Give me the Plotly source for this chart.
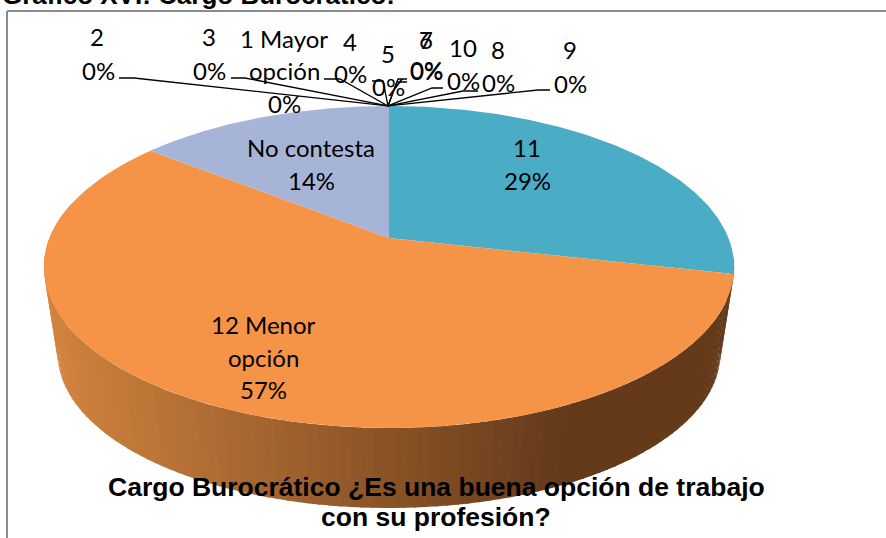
import numpy as np
import plotly.graph_objects as go

categories = ["1 Mayor<br>opción", "2", "3", "4", "5", "6", "7", "8", "9", "10", "11", "12 Menor<br>opción", "No contesta"]
values = [0, 0, 0, 0, 0, 0, 0, 0, 0, 0, 2, 4, 1]
colors = {"11": "#4BACC6", "12 Menor<br>opción": "#F59446", "No contesta": "#A6B5D7"}

CX, CY, R, B, A = 389, 238, 339.5, 155.8, 0.18
DEPTH_S, DEPTH_DY = 0.96, 87.6


def project(theta, r=1.0, s=1.0, dy=0.0):
    u, v = r * np.sin(theta), r * np.cos(theta)
    w = 1 + A * v
    return CX + s * R * u / w, CY + dy - s * B * v / w


fig = go.Figure()
total = sum(values)
fracs = np.array(values) / total
ends = np.cumsum(fracs) * 2 * np.pi
starts = ends - fracs * 2 * np.pi


def lerp(c1, c2, t):
    return "rgb(%d,%d,%d)" % tuple(round(a + (b - a) * t) for a, b in zip(c1, c2))


# side wall
front_start = np.deg2rad(97)
front_end = np.deg2rad(283)
edges = np.linspace(front_start, front_end, 121)
for a0, a1 in zip(edges[:-1], edges[1:]):
    th = np.linspace(a0, a1 + 0.006, 3)
    xt, yt = project(th)
    xb, yb = project(th[::-1], s=DEPTH_S, dy=DEPTH_DY)
    xm = (xt.mean() + xb.mean()) / 2
    t = np.clip((xm - 60) / (560 - 60), 0, 1)
    fig.add_trace(go.Scatter(x=np.r_[xt, xb], y=np.r_[yt, yb], fill="toself", mode="lines",
                             line=dict(width=0), fillcolor=lerp((208, 130, 62), (100, 58, 27), t),
                             hoverinfo="skip", showlegend=False))

# top face
for name, v, a0, a1 in zip(categories, values, starts, ends):
    if v == 0:
        continue
    th = np.linspace(a0, a1, 160)
    xs, ys = project(th)
    fig.add_trace(go.Scatter(x=np.r_[CX, xs, CX], y=np.r_[CY, ys, CY], fill="toself", mode="lines",
                             line=dict(width=0), fillcolor=colors[name], hoverinfo="skip", showlegend=False))

# leader lines: (label start, elbow)
leaders = {"2": (119, 134, 78), "3": (231, 245, 78), "4": (324, 340, 79), "5": (372, 383, 81),
           "6": (407, 397, 82), "7": (407, 398, 79), "10": (443, 432, 88), "8": (478, 463, 91), "9": (550, 538, 90)}
ax0, ay0 = project(0.0)
for k, (x0, x1, y) in leaders.items():
    fig.add_trace(go.Scatter(x=[x0, x1, ax0 - 1], y=[y, y, ay0], mode="lines", line=dict(color="black", width=1.3),
                             hoverinfo="skip", showlegend=False))

label_pos = {"1 Mayor": (284, 38), "opción": (284, 70), "2": (97, 36), "3": (209, 36), "4": (350, 41),
             "5": (388, 53), "6": (426, 39), "7": (426, 39), "8": (498, 49), "9": (570, 49),
             "10": (463, 47), "11": (527, 147), "12 Menor": (263, 324), "opción ": (263, 357),
             "No contesta": (311, 147)}
pct_pos = {"1 Mayor<br>opción": (284, 103), "2": (98, 70), "3": (209, 70), "4": (350, 73), "5": (388, 86),
           "6": (426, 69), "7": (426, 70), "8": (498, 82), "9": (570, 83), "10": (463, 80), "11": (527, 180),
           "12 Menor<br>opción": (263, 389), "No contesta": (311, 180)}
FONT = "Lato"
FS = 24
anns = []
for name, (x, y) in label_pos.items():
    anns.append(dict(x=x, y=y, text=name.strip(), showarrow=False, font=dict(family=FONT, size=FS, color="black")))
for name, v in zip(categories, values):
    x, y = pct_pos[name]
    anns.append(dict(x=x, y=y, text=f"{round(v / total * 100)}%", showarrow=False,
                     font=dict(family=FONT, size=FS, color="black")))

TITLE_FONT = dict(family="Liberation Sans", size=26.5, color="black")
anns.append(dict(x=436, y=487, text="<b>Cargo Burocrático ¿Es una buena opción de trabajo</b>",
                 showarrow=False, font=TITLE_FONT))
anns.append(dict(x=436, y=517, text="<b>con su profesión?</b>", showarrow=False, font=TITLE_FONT))
anns.append(dict(x=0, y=12, xanchor="left", yanchor="bottom", text="<b>Gráfico XVI: Cargo Burocrático:</b>",
                 showarrow=False, font=dict(family="Liberation Sans", size=26, color="black")))

fig.update_layout(
    width=886, height=538, margin=dict(l=0, r=0, t=0, b=0), paper_bgcolor="white", plot_bgcolor="white",
    xaxis=dict(range=[0, 886], visible=False, fixedrange=True),
    yaxis=dict(range=[538, 0], visible=False, fixedrange=True),
    annotations=anns,
    shapes=[dict(type="line", x0=7, x1=886, y0=11, y1=11, line=dict(color="#8C8C8C", width=2)),
            dict(type="line", x0=7, x1=7, y0=11, y1=538, line=dict(color="#8C8C8C", width=2))],
)
fig.write_html("out.html", config={"displayModeBar": False},
               post_script="document.body.style.margin='0';document.documentElement.style.overflow='hidden';")
